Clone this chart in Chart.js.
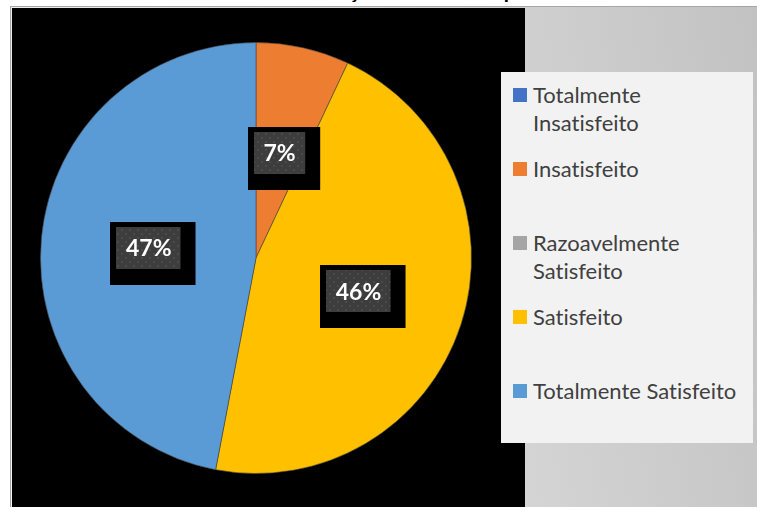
<!DOCTYPE html>
<html>
<head>
<meta charset="utf-8">
<script src="https://cdn.jsdelivr.net/npm/chart.js@4"></script>
<style>
    html, body { margin: 0; padding: 0; background: #fff; width: 757px; height: 507px; overflow: hidden; }
    #title {
        position: absolute; left: 0; width: 760px; top: -20px;
        text-align: center; font: bold 21px Lato, sans-serif; line-height: 20px; color: #000;
    }
    #frame {
        position: absolute; left: 10px; top: 6px; width: 747px; height: 501px;
        border-left: 1px solid #a6a6a6; border-top: 1px solid #a6a6a6;
        background: linear-gradient(80deg, #f2f2f2 0%, #c2c2c2 100%);
    }
    #plot { position: absolute; left: 1px; top: 1px; width: 513px; height: 500px; background: #000; }
    #plot canvas { position: absolute; left: 0; top: 0; }
    #legend {
        position: absolute; left: 501px; top: 72px; width: 252px; height: 371px;
        background: #f2f2f2; font: 22px Lato, sans-serif; color: #404040;
        font-variant-ligatures: none;
    }
    .item { position: absolute; left: 12px; width: 236px; height: 74px; }
    .item .box { position: absolute; left: 0; top: 7px; width: 14px; height: 14px; }
    .item .txt { position: absolute; left: 20px; top: 0; width: 214px; line-height: 28px; }
</style>
</head>
<body>
<div id="title">Nível de satisfação com esta empresa</div>
<div id="frame">
    <div id="plot"><canvas id="pie" width="513" height="500"></canvas></div>
</div>
<div id="legend"></div>
<script>
const categories = ['Totalmente Insatisfeito', 'Insatisfeito', 'Razoavelmente Satisfeito', 'Satisfeito', 'Totalmente Satisfeito'];
const percentages = [0, 7, 0, 46, 47];
const sliceColors = ['#4472C4', '#ED7D31', '#A5A5A5', '#FFC000', '#5B9BD5'];

// dotted dark fill used behind the data labels
function makePattern(ctx) {
    const p = document.createElement('canvas');
    p.width = 8; p.height = 8;
    const c = p.getContext('2d');
    c.fillStyle = '#3d3d3d';
    c.fillRect(0, 0, 8, 8);
    c.fillStyle = '#4b4b4b';
    c.fillRect(1, 1, 2, 2);
    c.fillRect(5, 5, 2, 2);
    return ctx.createPattern(p, 'repeat');
}

const boxLabels = {
    id: 'boxLabels',
    afterDatasetsDraw(chart) {
        const ctx = chart.ctx;
        const meta = chart.getDatasetMeta(0);
        const pattern = makePattern(ctx);
        ctx.save();
        ctx.font = 'bold 23px Lato, sans-serif';
        ctx.textAlign = 'center';
        ctx.textBaseline = 'middle';
        meta.data.forEach((arc, i) => {
            const v = chart.data.datasets[0].data[i];
            if (!v) return;
            const pos = arc.tooltipPosition();
            const text = v + '%';
            const w = ctx.measureText(text).width + 19;
            const h = 42;
            const x = Math.round(pos.x - w / 2);
            const y = Math.round(pos.y - h / 2);
            ctx.fillStyle = '#000';
            ctx.fillRect(x - 6, y - 5, w + 21, h + 21);
            ctx.fillStyle = pattern;
            ctx.fillRect(x, y, w, h);
            ctx.fillStyle = '#fff';
            ctx.fillText(text, pos.x, pos.y + 1);
        });
        ctx.restore();
    }
};

const chart = new Chart(document.getElementById('pie'), {
    type: 'pie',
    data: {
        labels: categories,
        datasets: [{
            data: percentages,
            backgroundColor: sliceColors,
            borderColor: 'rgba(70,70,70,0.6)',
            borderWidth: 1
        }]
    },
    options: {
        responsive: false,
        animation: false,
        layout: { padding: { left: 28, right: 53, top: 34, bottom: 34 } },
        plugins: {
            legend: { display: false },
            tooltip: { enabled: false }
        }
    },
    plugins: [boxLabels]
});

// legend built from the chart's own items
const legend = document.getElementById('legend');
chart.options.plugins.legend.labels.generateLabels(chart).forEach((item, i) => {
    const div = document.createElement('div');
    div.className = 'item';
    div.style.top = (9 + i * 74) + 'px';
    div.innerHTML = `<div class="box" style="background:${item.fillStyle}"></div><div class="txt">${item.text}</div>`;
    legend.appendChild(div);
});
</script>
</body>
</html>
